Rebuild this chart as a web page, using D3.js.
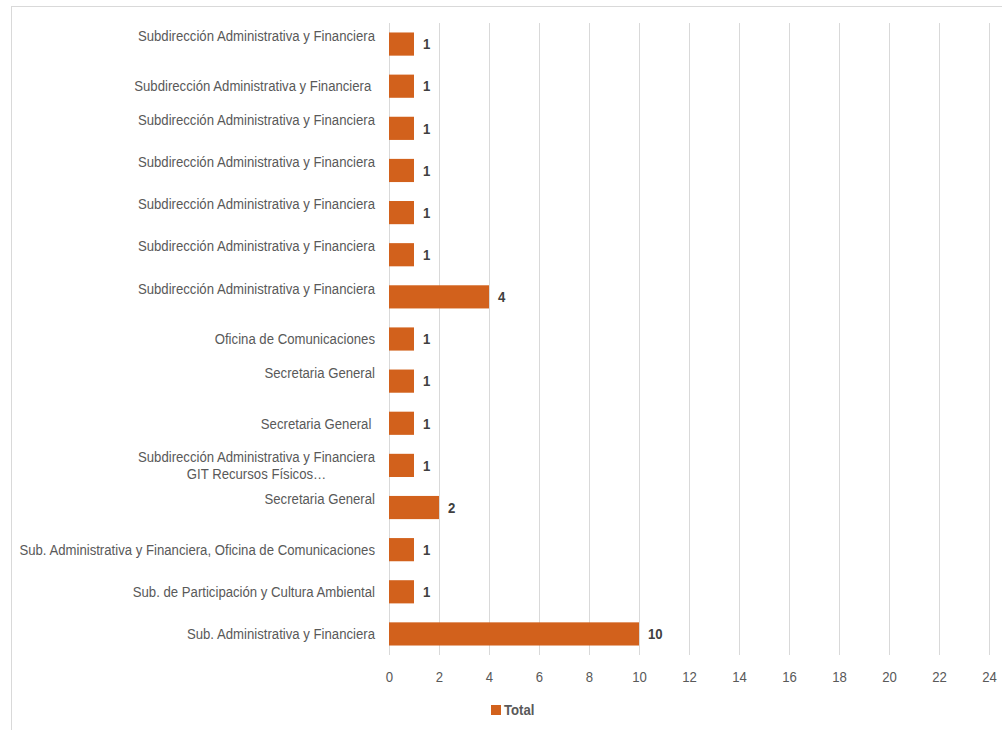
<!DOCTYPE html>
<html><head><meta charset="utf-8">
<script src="https://cdn.jsdelivr.net/npm/d3@7"></script>
<style>
html,body{margin:0;padding:0;background:#fff;}
svg{display:block;}
text{font-family:"Liberation Sans Narrow","Arial Narrow","Liberation Sans",Arial,sans-serif;}
</style></head>
<body>
<svg id="c" width="1002" height="730"></svg>
<script>
// Category labels (top to bottom); each entry is a list of text lines
const categories = [
  ["Subdirección Administrativa y Financiera", ""],
  ["Subdirección Administrativa y Financiera "],
  ["Subdirección Administrativa y Financiera", ""],
  ["Subdirección Administrativa y Financiera", ""],
  ["Subdirección Administrativa y Financiera", ""],
  ["Subdirección Administrativa y Financiera", ""],
  ["Subdirección Administrativa y Financiera", ""],
  ["Oficina de Comunicaciones"],
  ["Secretaria General", ""],
  ["Secretaria General "],
  ["Subdirección Administrativa y Financiera", "GIT Recursos Físicos…"],
  ["Secretaria General", ""],
  ["Sub. Administrativa y Financiera, Oficina de Comunicaciones"],
  ["Sub. de Participación y Cultura Ambiental"],
  ["Sub. Administrativa y Financiera"]
];
const values = [1, 1, 1, 1, 1, 1, 4, 1, 1, 1, 1, 2, 1, 1, 10];
const xTicks = [0, 2, 4, 6, 8, 10, 12, 14, 16, 18, 20, 22, 24];
const seriesName = "Total";

(function () {
const svg = d3.select("#c");
const W = 1002, H = 730;
const pL = 389, pR = 989, pT = 23, pB = 655;
const barColor = "#d2611c";
const FF = '"Liberation Sans Narrow","Arial Narrow","Liberation Sans",Arial,sans-serif';
const SX = 0.878; // horizontal condensing to mimic a narrow face
const squeeze = ax => `translate(${ax},0) scale(${SX},1) translate(${-ax},0)`;

// outer chart border
svg.append("rect").attr("x", 11.5).attr("y", 6.5).attr("width", W + 20).attr("height", H + 20)
  .attr("fill", "none").attr("stroke", "#d9d9d9").attr("stroke-width", 1);

const x = d3.scaleLinear().domain([0, 24]).range([pL, pR]);
const idx = categories.map((d, i) => i);
const y = d3.scaleBand().domain(idx).range([pT, pB]).paddingInner(0.45).paddingOuter(0.225);

// gridlines
svg.append("g").selectAll("line").data(xTicks).join("line")
  .attr("x1", d => Math.round(x(d)) + 0.5).attr("x2", d => Math.round(x(d)) + 0.5)
  .attr("y1", pT).attr("y2", pB)
  .attr("stroke", "#d9d9d9").attr("stroke-width", 1);

// x axis tick labels
const xAxis = d3.axisBottom(x).tickValues(xTicks).tickSize(0).tickPadding(0);
const gx = svg.append("g").attr("transform", `translate(0,${pB + 16})`).call(xAxis);
gx.select(".domain").remove();
gx.selectAll("text").attr("fill", "#595959").attr("font-size", 15).attr("font-family", FF)
  .attr("transform", `scale(${SX},1)`);

// bars
svg.append("g").selectAll("rect").data(values).join("rect")
  .attr("x", x(0)).attr("y", (d, i) => y(i))
  .attr("width", d => x(d) - x(0)).attr("height", y.bandwidth())
  .attr("fill", barColor);

// value labels
svg.append("g").selectAll("text").data(values).join("text")
  .attr("x", d => x(d) + 9).attr("y", (d, i) => y(i) + y.bandwidth() / 2)
  .attr("transform", d => squeeze(x(d) + 9))
  .attr("dy", "0.35em").attr("font-size", 15).attr("font-weight", "bold")
  .attr("fill", "#404040").text(d => d);

// category labels
const lh = 17, ax = 375;
const cat = svg.append("g").attr("transform", squeeze(ax))
  .selectAll("text").data(categories).join("text")
  .attr("text-anchor", "end").attr("font-size", 15).attr("fill", "#595959")
  .style("white-space", "pre")
  .attr("x", ax)
  .attr("y", (d, i) => y(i) + y.bandwidth() / 2);
cat.each(function (lines) {
  const t = d3.select(this);
  const n = lines.length;
  lines.forEach((ln, k) => {
    t.append("tspan").attr("x", ax)
      .attr("dy", k === 0 ? (0.35 * 15 - (n - 1) * lh / 2) : lh)
      .text(ln);
  });
});
// the label with text on both lines is centered as a block
cat.filter(d => d.length === 2 && d[1] !== "").each(function () {
  const t = d3.select(this);
  const bb = this.getBBox();
  const cx = bb.x + bb.width / 2;
  t.attr("text-anchor", "middle");
  t.selectAll("tspan").attr("x", cx);
});

// legend
const lg = svg.append("g");
lg.append("rect").attr("x", 491).attr("y", 705).attr("width", 10).attr("height", 10).attr("fill", barColor);
lg.append("text").attr("x", 504).attr("y", 710).attr("dy", "0.35em")
  .attr("transform", squeeze(504))
  .attr("font-size", 15).attr("font-weight", "bold").attr("fill", "#595959").text(seriesName);
})();
</script>
</body></html>
